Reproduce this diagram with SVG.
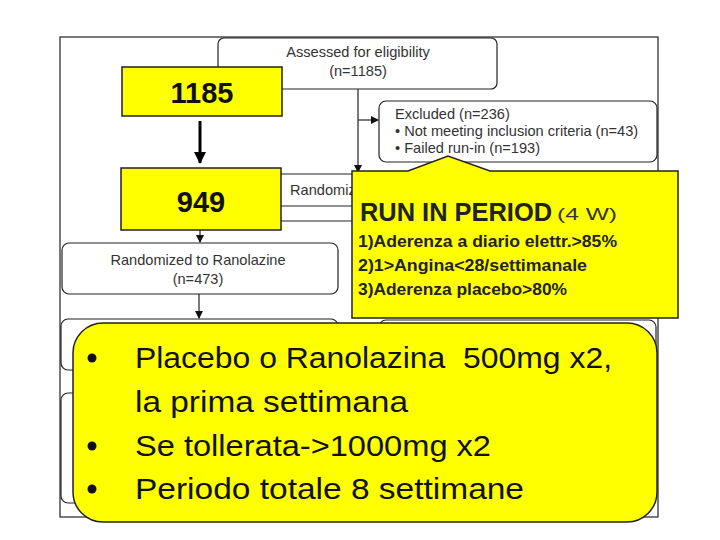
<svg xmlns="http://www.w3.org/2000/svg" width="720" height="540" viewBox="0 0 720 540">
<defs>
<marker id="ah" markerWidth="8" markerHeight="8" refX="7" refY="4" orient="auto" markerUnits="userSpaceOnUse">
<path d="M0,0 L8,4 L0,8 Z" fill="#111"/>
</marker>
<marker id="ahb" markerWidth="12" markerHeight="12" refX="11" refY="6" orient="auto" markerUnits="userSpaceOnUse">
<path d="M0,0 L12,6 L0,12 Z" fill="#000"/>
</marker>
<style>
.box{fill:#fff;stroke:#222;stroke-width:1.2}
.ln{fill:none;stroke:#222;stroke-width:1.2}
.t{font-family:"Liberation Sans",Arial,sans-serif;font-size:14.6px;fill:#333}
.yb{fill:#ffff00;stroke:#222;stroke-width:1.5}
.num{font-family:"Liberation Sans",Arial,sans-serif;font-weight:bold;font-size:29px;fill:#111;text-anchor:middle}
.run{font-family:"Liberation Sans",Arial,sans-serif;font-weight:bold;fill:#222}
.runl{font-family:"Liberation Sans",Arial,sans-serif;font-weight:normal;fill:#333}
.big{font-family:"Liberation Sans",Arial,sans-serif;font-size:29px;fill:#111}
</style>
</defs>
<rect x="0" y="0" width="720" height="540" fill="#fff"/>
<g id="frame"><rect x="60" y="37" width="598" height="480" fill="none" stroke="#222" stroke-width="1.2"/></g>
<g id="assessed"><rect class="box" x="218" y="38" width="279" height="51" rx="6"/>
<text class="t" x="358" y="57" text-anchor="middle">Assessed for eligibility</text>
<text class="t" x="358" y="76" text-anchor="middle">(n=1185)</text></g>
<g id="excluded"><rect class="box" x="379" y="101" width="278" height="61" rx="7"/>
<text class="t" x="395" y="119">Excluded (n=236)</text>
<text class="t" x="395" y="136">• Not meeting inclusion criteria (n=43)</text>
<text class="t" x="395" y="153">• Failed run-in (n=193)</text></g>
<g id="randomized"><rect class="box" x="262" y="174" width="140" height="32" rx="5"/>
<text class="t" x="290" y="195">Randomiz</text></g>
<g id="ranolazine"><rect class="box" x="62" y="243" width="276" height="51" rx="7"/>
<text class="t" x="198" y="265" text-anchor="middle">Randomized to Ranolazine</text>
<text class="t" x="198" y="284" text-anchor="middle">(n=473)</text></g>
<g id="left2"><rect class="box" x="61" y="319" width="277" height="51" rx="7"/></g>
<g id="left3"><rect class="box" x="61" y="393" width="277" height="110" rx="7"/></g>
<g id="right2"><rect class="box" x="379" y="320" width="277" height="51" rx="7"/></g>
<g id="connectors">
<line class="ln" x1="358" y1="89" x2="358" y2="172" marker-end="url(#ah)"/>
<line class="ln" x1="358" y1="120" x2="378" y2="120" marker-end="url(#ah)"/>
<line class="ln" x1="200" y1="221" x2="420" y2="221"/>
<line class="ln" x1="200" y1="221" x2="200" y2="242" marker-end="url(#ah)"/>
<line class="ln" x1="199" y1="294" x2="199" y2="318" marker-end="url(#ah)"/>
<line x1="200" y1="121" x2="200" y2="163" stroke="#000" stroke-width="3" marker-end="url(#ahb)"/>
</g>
<g id="n1185"><rect class="yb" x="122" y="67" width="160" height="49"/>
<text class="num" x="202" y="103">1185</text></g>
<g id="n949"><rect class="yb" x="121" y="168" width="160" height="62"/>
<text class="num" x="201" y="212">949</text></g>
<g id="runin">
<path class="yb" d="M352,171 L408,171 L448,156 L490,171 L678,171 L678,318 L352,318 Z" stroke-width="1.2"/>
<text class="run" x="360" y="221" font-size="25" textLength="192" lengthAdjust="spacingAndGlyphs">RUN IN PERIOD</text>
<text class="runl" x="557" y="220" font-size="17" textLength="60" lengthAdjust="spacingAndGlyphs">(4 W)</text>
<text class="run" x="358" y="247" font-size="16" textLength="259" lengthAdjust="spacingAndGlyphs">1)Aderenza a diario elettr.&gt;85%</text>
<text class="run" x="358" y="271" font-size="16" textLength="229" lengthAdjust="spacingAndGlyphs">2)1&gt;Angina&lt;28/settimanale</text>
<text class="run" x="358" y="295" font-size="16" textLength="209" lengthAdjust="spacingAndGlyphs">3)Aderenza placebo&gt;80%</text>
</g>
<g id="therapy">
<rect class="yb" x="73" y="323" width="584" height="199" rx="30"/>
<circle cx="92" cy="358" r="4.5" fill="#111"/>
<circle cx="92" cy="446" r="4.5" fill="#111"/>
<circle cx="92" cy="489" r="4.5" fill="#111"/>
<text class="big" x="135" y="368" textLength="477" lengthAdjust="spacingAndGlyphs" xml:space="preserve">Placebo o Ranolazina  500mg x2,</text>
<text class="big" x="135" y="412" textLength="273" lengthAdjust="spacingAndGlyphs">la prima settimana</text>
<text class="big" x="135" y="456" textLength="356" lengthAdjust="spacingAndGlyphs">Se tollerata-&gt;1000mg x2</text>
<text class="big" x="135" y="499" textLength="389" lengthAdjust="spacingAndGlyphs">Periodo totale 8 settimane</text>
</g>
</svg>
